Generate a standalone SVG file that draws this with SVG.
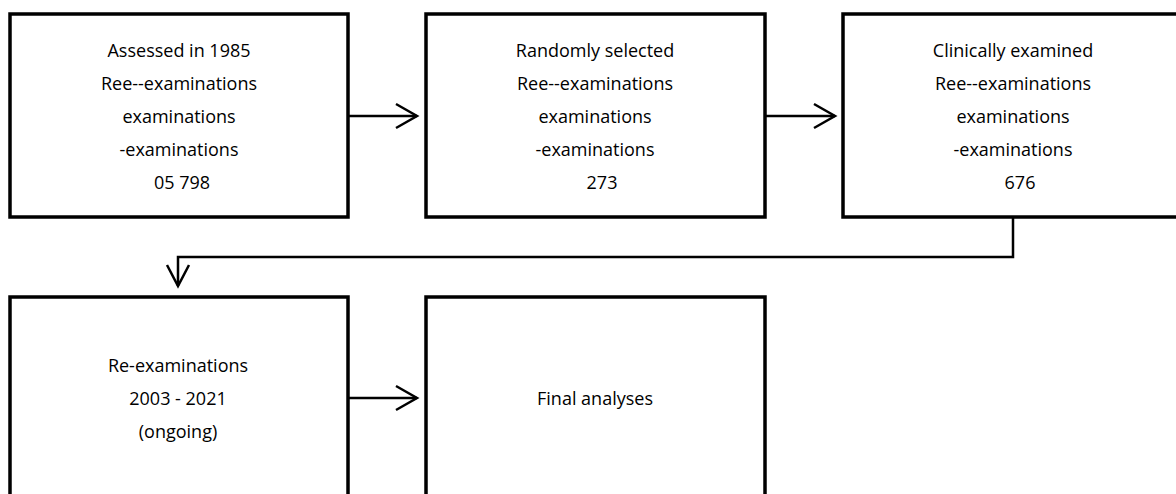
<svg xmlns="http://www.w3.org/2000/svg" width="1176" height="494" viewBox="0 0 1176 494">
<style>
.box{fill:#fff;stroke:#000;stroke-width:3.5}
.t{font-family:"Open Sans","Noto Sans",sans-serif;font-size:18px;fill:#000;text-anchor:middle}
.c{fill:none;stroke:#000;stroke-width:2.5}
</style>
<g id="n1">
<rect class="box" x="10" y="14" width="338" height="203"/>
<text class="t" x="179" y="57">Assessed in 1985</text>
<text class="t" x="179" y="90">Ree--examinations</text>
<text class="t" x="179" y="123">examinations</text>
<text class="t" x="179" y="156">-examinations</text>
<text class="t" x="182" y="189">05 798</text>
</g>
<g id="n2">
<rect class="box" x="426" y="14" width="339" height="203"/>
<text class="t" x="595" y="57">Randomly selected</text>
<text class="t" x="595" y="90">Ree--examinations</text>
<text class="t" x="595" y="123">examinations</text>
<text class="t" x="595" y="156">-examinations</text>
<text class="t" x="602" y="189">273</text>
</g>
<g id="n3">
<rect class="box" x="843" y="14" width="340" height="203"/>
<text class="t" x="1013" y="57">Clinically examined</text>
<text class="t" x="1013" y="90">Ree--examinations</text>
<text class="t" x="1013" y="123">examinations</text>
<text class="t" x="1013" y="156">-examinations</text>
<text class="t" x="1020" y="189">676</text>
</g>
<g id="n4">
<rect class="box" x="10" y="297" width="338" height="210"/>
<text class="t" x="178" y="372">Re-examinations</text>
<text class="t" x="178" y="405">2003 - 2021</text>
<text class="t" x="178" y="438">(ongoing)</text>
</g>
<g id="n5">
<rect class="box" x="426" y="297" width="339" height="210"/>
<text class="t" x="595" y="405">Final analyses</text>
</g>
<g id="connectors">
<path class="c" d="M348,116 H417"/>
<path class="c" d="M396,104 L417,116 L396,128"/>
<path class="c" d="M765,116 H835"/>
<path class="c" d="M814,104 L835,116 L814,128"/>
<path class="c" d="M1013,217 V257 H178 V286"/>
<path class="c" d="M167,265 L178,286 L189,265"/>
<path class="c" d="M348,398 H417"/>
<path class="c" d="M396,386 L417,398 L396,410"/>
</g>
</svg>
